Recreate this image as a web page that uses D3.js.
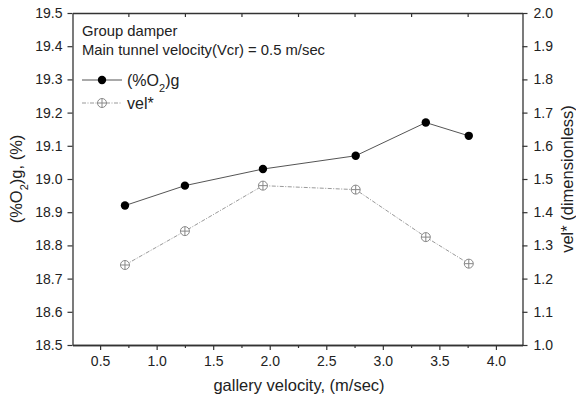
<!DOCTYPE html>
<html><head><meta charset="utf-8">
<script src="https://cdn.jsdelivr.net/npm/d3@7"></script>
<style>body{margin:0;background:#fff}svg{display:block}text{font-family:Arial,"Liberation Sans",sans-serif;fill:#222}</style>
</head><body>
<svg id="c" width="576" height="401"></svg>
<script>
const velocity = [0.72, 1.25, 1.94, 2.76, 3.38, 3.76];
const o2 = [18.92, 18.98, 19.03, 19.07, 19.17, 19.13];
const velStar = [1.241, 1.343, 1.48, 1.468, 1.325, 1.245];
const xTicks = [0.5, 1.0, 1.5, 2.0, 2.5, 3.0, 3.5, 4.0];
const xMinor = [0.75, 1.25, 1.75, 2.25, 2.75, 3.25, 3.75];
const yLeftTicks = [18.5, 18.6, 18.7, 18.8, 18.9, 19.0, 19.1, 19.2, 19.3, 19.4, 19.5];
const yRightTicks = [1.0, 1.1, 1.2, 1.3, 1.4, 1.5, 1.6, 1.7, 1.8, 1.9, 2.0];

const L = 72.5, R = 522.5, T = 13, B = 345;
const svg = d3.select("#c");
const x = d3.scaleLinear().domain([0.256, 4.235]).range([L, R]);
const yL = d3.scaleLinear().domain([18.5, 19.5]).range([B, T]);
const yR = d3.scaleLinear().domain([1.0, 2.0]).range([B, T]);
const axColor = "#333";

function style(g){ g.select(".domain").attr("stroke", axColor).attr("stroke-width", 1.3);
  g.selectAll(".tick line").attr("stroke", axColor).attr("stroke-width", 1.2);
  g.selectAll(".tick text").attr("fill", "#333").style("font-size", "14px"); }

// bottom axis
svg.append("g").attr("transform", `translate(0,${B})`)
  .call(d3.axisBottom(x).tickValues(xTicks).tickFormat(d3.format(".1f")).tickSizeInner(5).tickSizeOuter(0).tickPadding(6)).call(style);
svg.append("g").attr("transform", `translate(0,${B})`)
  .call(d3.axisBottom(x).tickValues(xMinor).tickFormat("").tickSizeInner(3).tickSizeOuter(0)).call(style);
// top axis
svg.append("g").attr("transform", `translate(0,${T})`)
  .call(d3.axisTop(x).tickValues(xMinor).tickFormat("").tickSizeInner(-4).tickSizeOuter(0)).call(style);
// left
svg.append("g").attr("transform", `translate(${L},0)`)
  .call(d3.axisLeft(yL).tickValues(yLeftTicks).tickFormat(d3.format(".1f")).tickSizeInner(5).tickSizeOuter(0).tickPadding(5)).call(style);
// right
svg.append("g").attr("transform", `translate(${R},0)`)
  .call(d3.axisRight(yR).tickValues(yRightTicks).tickFormat(d3.format(".1f")).tickSizeInner(5).tickSizeOuter(0).tickPadding(6)).call(style);

// axis titles
svg.append("text").attr("x", 299).attr("y", 391).attr("text-anchor", "middle").style("font-size", "16.5px").text("gallery velocity, (m/sec)");
const lt = svg.append("text").attr("transform", `translate(22,${(T+B)/2}) rotate(-90)`).attr("text-anchor", "middle").style("font-size", "16.5px");
lt.append("tspan").text("(%O");
lt.append("tspan").attr("baseline-shift", "sub").style("font-size", "11px").text("2");
lt.append("tspan").text(")g, (%)");
svg.append("text").attr("transform", `translate(573,${(T+B)/2}) rotate(-90)`).attr("text-anchor", "middle").style("font-size", "16.5px").text("vel* (dimensionless)");

// series lines
const data = velocity.map((v,i)=>({v, o2:o2[i], vs:velStar[i]}));
svg.append("path").datum(data).attr("fill","none").attr("stroke","#555").attr("stroke-width",1)
  .attr("d", d3.line().x(d=>x(d.v)).y(d=>yL(d.o2)));
svg.append("path").datum(data).attr("fill","none").attr("stroke","#999").attr("stroke-width",1).attr("stroke-dasharray","4,1.5,1,1.5")
  .attr("d", d3.line().x(d=>x(d.v)).y(d=>yR(d.vs)));

function crossCircle(g, cx, cy){
  g.append("circle").attr("cx",cx).attr("cy",cy).attr("r",4.5).attr("fill","#fff").attr("stroke","#888").attr("stroke-width",1);
  g.append("line").attr("x1",cx-4.5).attr("x2",cx+4.5).attr("y1",cy).attr("y2",cy).attr("stroke","#888").attr("stroke-width",1);
  g.append("line").attr("x1",cx).attr("x2",cx).attr("y1",cy-4.5).attr("y2",cy+4.5).attr("stroke","#888").attr("stroke-width",1);
}
svg.append("g").selectAll("circle").data(data).join("circle")
  .attr("cx", d=>x(d.v)).attr("cy", d=>yL(d.o2)).attr("r", 4.2).attr("fill","#000");
const vg = svg.append("g");
data.forEach(d=>crossCircle(vg, x(d.v), yR(d.vs)));

// annotations
svg.append("text").attr("x",82).attr("y",36).style("font-size","14.8px").text("Group damper");
svg.append("text").attr("x",82).attr("y",55).style("font-size","14.8px").text("Main tunnel velocity(Vcr) = 0.5 m/sec");
// legend
svg.append("line").attr("x1",82).attr("x2",122).attr("y1",80).attr("y2",80).attr("stroke","#555").attr("stroke-width",1);
svg.append("circle").attr("cx",102).attr("cy",80).attr("r",4.2).attr("fill","#000");
const l1 = svg.append("text").attr("x",127).attr("y",86).style("font-size","16px");
l1.append("tspan").text("(%O");
l1.append("tspan").attr("baseline-shift","sub").style("font-size","11px").text("2");
l1.append("tspan").text(")g");
svg.append("line").attr("x1",82).attr("x2",122).attr("y1",103).attr("y2",103).attr("stroke","#999").attr("stroke-width",1).attr("stroke-dasharray","4,1.5,1,1.5");
crossCircle(svg, 102, 103);
svg.append("text").attr("x",127).attr("y",109).style("font-size","16px").text("vel*");
</script>
</body></html>
